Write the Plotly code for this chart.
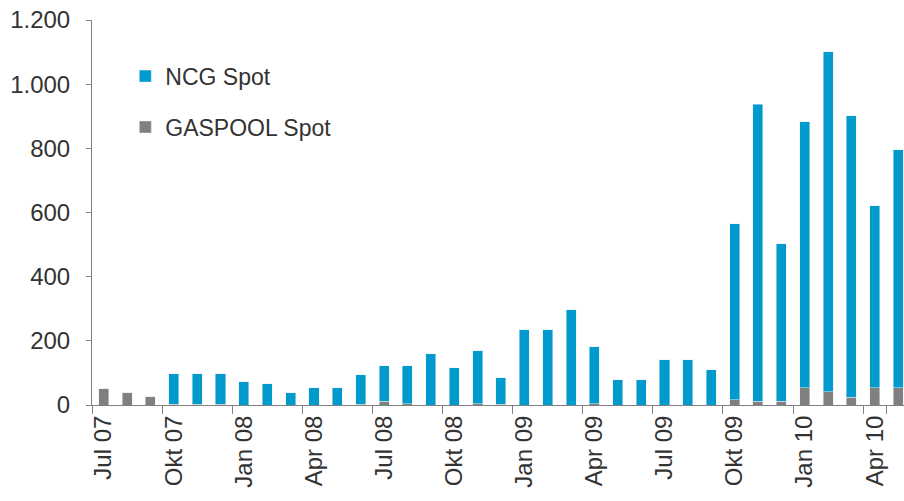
import plotly.graph_objects as go

# Monthly spot volumes, Jul 07 - May 10
months = ["Jul 07", "Aug 07", "Sep 07", "Okt 07", "Nov 07", "Dez 07",
          "Jan 08", "Feb 08", "Mär 08", "Apr 08", "Mai 08", "Jun 08",
          "Jul 08", "Aug 08", "Sep 08", "Okt 08", "Nov 08", "Dez 08",
          "Jan 09", "Feb 09", "Mär 09", "Apr 09", "Mai 09", "Jun 09",
          "Jul 09", "Aug 09", "Sep 09", "Okt 09", "Nov 09", "Dez 09",
          "Jan 10", "Feb 10", "Mär 10", "Apr 10", "Mai 10"]

gaspool_spot = [50, 38, 26, 3, 3, 3,
                0, 0, 0, 0, 0, 3,
                11, 4, 0, 0, 4, 3,
                0, 0, 0, 4, 0, 0,
                0, 0, 0, 17, 12, 11,
                54, 42, 24, 54, 54]

ncg_spot = [0, 0, 0, 95, 95, 95,
            73, 66, 38, 54, 54, 92,
            111, 118, 160, 116, 165, 82,
            235, 235, 297, 178, 79, 79,
            141, 141, 110, 548, 926, 492,
            829, 1059, 878, 567, 742]

tick_labels = ["Jul 07", "Okt 07", "Jan 08", "Apr 08", "Jul 08", "Okt 08",
               "Jan 09", "Apr 09", "Jul 09", "Okt 09", "Jan 10", "Apr 10"]

font = dict(family="Liberation Sans, Arial, sans-serif", size=24, color="#333333")

fig = go.Figure()
fig.add_trace(go.Bar(x=months, y=gaspool_spot, name="GASPOOL Spot",
                     marker_color="#808080", legendgroup="g", legendrank=2))
fig.add_trace(go.Bar(x=months, y=ncg_spot, name="NCG Spot",
                     marker_color="#009ACD", legendgroup="n", legendrank=1))

fig.update_layout(
    barmode="stack",
    bargap=0.57,
    width=904, height=501,
    margin=dict(l=92, r=0, t=20, b=96),
    plot_bgcolor="white",
    paper_bgcolor="white",
    font=font,
    separators=",.",
    legend=dict(x=0.041, y=0.91, xanchor="left", yanchor="top",
                traceorder="grouped", tracegroupgap=18,
                font=dict(size=23, color="#333333"),
                bgcolor="rgba(0,0,0,0)"),
)

# last month is cut off at the right edge, as in the original
fig.update_xaxes(
    type="category",
    range=[-0.5, 34.25],
    tickvals=tick_labels,
    ticktext=tick_labels,
    tickangle=-90,
    tickson="boundaries",
    ticks="outside", ticklen=8, tickcolor="#808080",
    showline=True, linecolor="#808080", linewidth=1,
    showgrid=False, automargin=False,
)

fig.update_yaxes(
    range=[0, 1200],
    dtick=200,
    tickformat=",",
    ticks="outside", ticklen=5, tickcolor="#808080",
    ticklabelstandoff=11,
    ticklabeloverflow="allow",
    showline=True, linecolor="#808080", linewidth=1,
    showgrid=False, zeroline=False, automargin=False,
)

# drop the default body margin so the figure sits at the page corner
fig.write_html("out.html", config={"displayModeBar": False},
               post_script="document.body.style.margin='0';")
